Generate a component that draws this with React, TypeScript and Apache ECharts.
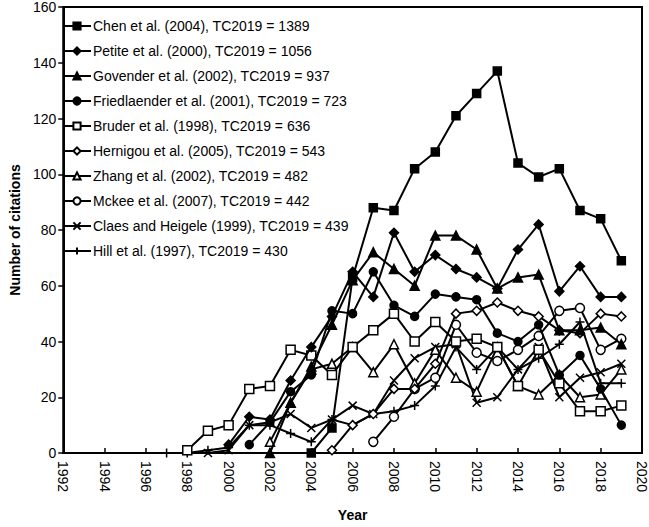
import React, { useEffect, useRef } from "react";
import * as echarts from "echarts";

const seriesNames = [
  "Chen et al. (2004), TC2019 = 1389",
  "Petite et al. (2000), TC2019 = 1056",
  "Govender et al. (2002), TC2019 = 937",
  "Friedlaender et al. (2001), TC2019 = 723",
  "Bruder et al. (1998), TC2019 = 636",
  "Hernigou et al. (2005), TC2019 = 543",
  "Zhang et al. (2002), TC2019 = 482",
  "Mckee et al. (2007), TC2019 = 442",
  "Claes and Heigele (1999), TC2019 = 439",
  "Hill et al. (1997), TC2019 = 430",
];

const startYears = [2004, 2000, 2002, 2001, 1998, 2005, 2002, 2007, 1999, 1997];

const chen = [0, 9, 63, 88, 87, 102, 108, 121, 129, 137, 104, 99, 102, 87, 84, 69];
const petite = [3, 13, 12, 26, 38, 49, 65, 56, 79, 65, 71, 66, 63, 59, 73, 82, 58, 67, 56, 56];
const govender = [0, 18, 31, 46, 62, 72, 66, 60, 78, 78, 73, 59, 63, 64, 44, 44, 45, 39];
const friedlaender = [3, 11, 22, 28, 51, 50, 65, 53, 49, 57, 56, 55, 43, 40, 46, 28, 35, 23, 10];
const bruder = [1, 8, 10, 23, 24, 37, 35, 28, 38, 44, 50, 40, 47, 40, 41, 38, 24, 37, 25, 15, 15, 17];
const hernigou = [1, 10, 14, 23, 23, 32, 50, 51, 54, 51, 49, 44, 43, 50, 49];
const zhang = [4, 18, 30, 32, 38, 29, 39, 25, 37, 27, 22, 38, 24, 21, 28, 20, 21, 30];
const mckee = [4, 13, 23, 27, 46, 36, 33, 37, 42, 51, 52, 37, 41];
const claes = [0, 1, 10, 11, 14, 9, 12, 17, 14, 26, 34, 38, 39, 18, 20, 30, 38, 20, 27, 29, 32];
const hill = [0, 0, 1, 2, 10, 10, 7, 4, 12, 10, 14, 15, 17, 24, 38, 30, 38, 30, 34, 39, 47, 25, 25];

const allValues = [chen, petite, govender, friedlaender, bruder, hernigou, zhang, mckee, claes, hill];

const yTicks = [0, 20, 40, 60, 80, 100, 120, 140, 160];
const xTicks = [1992, 1994, 1996, 1998, 2000, 2002, 2004, 2006, 2008, 2010, 2012, 2014, 2016, 2018, 2020];

const FONT = "'Liberation Sans', Arial, sans-serif";

const symbols = [
  { symbol: "rect", size: 8, filled: true },
  { symbol: "diamond", size: 9, filled: true },
  { symbol: "triangle", size: 9, filled: true },
  { symbol: "circle", size: 8, filled: true },
  { symbol: "rect", size: 9, filled: false },
  { symbol: "diamond", size: 9, filled: false },
  { symbol: "triangle", size: 9, filled: false },
  { symbol: "circle", size: 9, filled: false },
  { symbol: "path://M0,0L10,10M0,10L10,0", size: 8, filled: true },
  { symbol: "path://M0,5L10,5M5,1L5,9", size: 9, filled: true },
];

export default function App() {
  const ref = useRef<HTMLDivElement>(null);
  useEffect(() => {
    if (!ref.current) return;
    const chart = echarts.init(ref.current, null, { renderer: "svg" });
    const series = allValues.map((vals, i) => {
      const s = symbols[i];
      return {
        name: seriesNames[i],
        type: "line",
        data: vals.map((v, k) => [startYears[i] + k, v]),
        symbol: s.symbol,
        symbolSize: s.size,
        showAllSymbol: true,
        lineStyle: { color: "#000", width: 2 },
        itemStyle: {
          color: s.filled ? "#000" : "#fff",
          borderColor: "#000",
          borderWidth: 1.5,
          opacity: 1,
        },
        emphasis: { disabled: true },
        z: 10 - i,
      };
    });
    chart.setOption({
      animation: false,
      backgroundColor: "#fff",
      textStyle: { fontFamily: FONT },
      grid: {
        left: 52,
        right: 6,
        top: 6,
        bottom: 61,
        show: true,
        borderColor: "#000",
        borderWidth: 2,
      },
      legend: {
        orient: "vertical",
        left: 57,
        top: 14,
        itemWidth: 28,
        itemHeight: 9,
        itemGap: 11,
        textStyle: { fontFamily: FONT, fontSize: 14, color: "#000", padding: [0, 0, 0, -3] },
        data: seriesNames,
      },
      xAxis: {
        type: "value",
        min: 1992,
        max: 2020,
        interval: 2,
        name: "Year",
        nameLocation: "middle",
        nameGap: 55,
        nameTextStyle: { fontFamily: FONT, fontSize: 14, fontWeight: "bold", color: "#000" },
        axisLine: { show: true, onZero: false, lineStyle: { color: "#000", width: 2 } },
        axisTick: { show: true, inside: true, length: 5, lineStyle: { color: "#000", width: 1.5 } },
        splitLine: { show: false },
        axisLabel: {
          rotate: -90,
          margin: 8,
          fontFamily: FONT,
          fontSize: 14,
          color: "#000",
          formatter: (v: number) => (xTicks.includes(v) ? String(v) : ""),
        },
      },
      yAxis: {
        type: "value",
        min: 0,
        max: 160,
        interval: 20,
        name: "Number of citations",
        nameLocation: "middle",
        nameGap: 41,
        nameRotate: 90,
        nameTextStyle: { fontFamily: FONT, fontSize: 14, fontWeight: "bold", color: "#000" },
        axisLine: { show: true, lineStyle: { color: "#000", width: 2 } },
        axisTick: { show: true, inside: false, length: 5, lineStyle: { color: "#000", width: 1.5 } },
        splitLine: { show: false },
        axisLabel: {
          margin: 7,
          fontFamily: FONT,
          fontSize: 14,
          color: "#000",
          formatter: (v: number) => (yTicks.includes(v) ? String(v) : ""),
        },
      },
      series,
    });
    return () => chart.dispose();
  }, []);
  return (
    <div
      ref={ref}
      style={{ position: "fixed", left: 0, top: 0, width: 649, height: 527, background: "#fff" }}
    />
  );
}
